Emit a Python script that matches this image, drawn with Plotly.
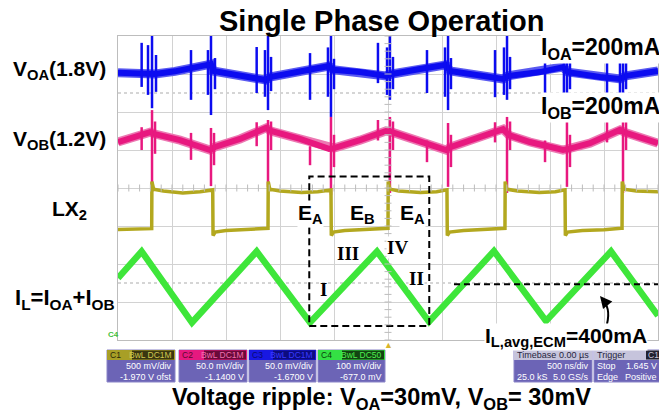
import plotly.graph_objects as go
import numpy as np

# ---------------- data (time in ns, amplitude in screen divisions) ----------------
# Inductor current I_L (green, C4)
il_t = [0, 219, 685, 1284, 1778, 2398, 2880, 3481, 3963, 4565, 5000]
il_v = [-2.37, -1.67, -3.54, -1.67, -3.54, -1.67, -3.52, -1.66, -3.50, -1.67, -3.36]

# LX2 switching node (yellow, C1)
lx_t = [0, 150, 305, 312, 314, 330, 420, 600, 760, 870,
        877, 880, 900, 1000, 1200, 1380,
        1389, 1391, 1405, 1500, 1700, 1850, 1965,
        1972, 1975, 1995, 2100, 2300, 2492,
        2500, 2502, 2517, 2600, 2800, 2950, 3039,
        3046, 3049, 3070, 3200, 3400, 3575,
        3583, 3585, 3600, 3700, 3900, 4050, 4132,
        4139, 4142, 4162, 4300, 4500, 4659,
        4667, 4669, 4684, 4800, 5000]
lx_v = [-1.09, -1.08, -1.07, -1.07, 0.17, -0.03, -0.08, -0.13, -0.10, -0.05,
        -0.05, -1.25, -1.16, -1.12, -1.10, -1.06,
        -1.06, 0.17, -0.03, -0.08, -0.12, -0.10, -0.05,
        -0.05, -1.25, -1.16, -1.12, -1.10, -1.06,
        -1.06, 0.17, -0.03, -0.08, -0.12, -0.10, -0.05,
        -0.05, -1.25, -1.16, -1.12, -1.10, -1.06,
        -1.06, 0.17, -0.03, -0.08, -0.12, -0.10, -0.05,
        -0.05, -1.25, -1.16, -1.12, -1.10, -1.06,
        -1.06, 0.17, -0.03, -0.08, -0.10]

# V_OA output (blue, C3) baseline
voa_t = [0, 296, 343, 528, 759, 861, 880, 1130, 1370, 1407, 1778, 1954, 1991, 2241, 2481,
         2537, 2796, 3037, 3074, 3352, 3565, 3611, 3907, 4120, 4167, 4463, 4648, 4704, 5000]
voa_v = [3.03, 2.97, 3.00, 3.07, 3.18, 3.26, 3.08, 2.97, 2.84, 2.92, 3.11, 3.21, 3.11, 3.05, 2.95,
         3.00, 3.13, 3.24, 3.08, 2.95, 2.87, 2.95, 3.05, 3.18, 3.05, 2.92, 2.87, 2.95, 3.08]
# V_OA spikes: time, upper end, lower end
voa_spk_t = [219, 278, 315, 352, 676, 833, 861, 898, 1284, 1361, 1389, 1417, 1778, 1944, 1972, 2000,
             2407, 2491, 2518, 2546, 2861, 3028, 3056, 3083, 3491, 3574, 3602, 3630, 3954,
             4129, 4157, 4185, 4528, 4648, 4676, 4704]
voa_spk_hi = [3.82, 3.76, 4.00, 3.50, 3.63, 3.63, 4.00, 3.42, 3.71, 3.63, 4.00, 3.45, 3.55, 3.70, 4.00, 3.40,
              3.82, 3.70, 4.00, 3.45, 3.63, 3.70, 4.00, 3.42, 3.63, 3.70, 4.00, 3.45, 3.63,
              3.70, 4.00, 3.42, 3.76, 3.70, 4.00, 3.45]
voa_spk_lo = [2.66, 2.45, 2.10, 2.53, 2.32, 2.45, 1.92, 2.60, 2.50, 2.40, 2.05, 2.55, 2.32, 2.40, 1.87, 2.60,
              2.76, 2.45, 2.32, 2.60, 2.50, 2.40, 2.05, 2.60, 2.39, 2.45, 2.32, 2.60, 2.39,
              2.45, 2.40, 2.60, 2.45, 2.45, 2.32, 2.60]

# V_OB output (pink, C2) baseline
vob_t = [0, 296, 343, 574, 852, 898, 1130, 1370, 1417, 1685, 1954, 2000, 2241, 2481, 2537, 2796,
         3037, 3083, 3352, 3565, 3620, 3815, 4120, 4176, 4370, 4648, 4704, 5000]
vob_v = [1.21, 1.47, 1.42, 1.26, 1.00, 1.08, 1.29, 1.58, 1.50, 1.29, 1.03, 1.05, 1.26, 1.50, 1.47, 1.24,
         1.00, 1.08, 1.34, 1.55, 1.39, 1.21, 1.00, 1.03, 1.18, 1.53, 1.45, 1.18]
vob_spk_t = [219, 315, 343, 676, 861, 889, 1284, 1389, 1417, 1778, 1972, 2000, 2407, 2518, 2546, 2861,
             3056, 3083, 3491, 3602, 3630, 3954, 4157, 4185, 4528, 4676, 4704]
vob_spk_hi = [1.60, 2.05, 1.75, 1.45, 1.58, 1.45, 1.73, 1.79, 1.75, 1.10, 1.87, 1.40, 1.79, 1.87, 1.75, 1.25,
              1.71, 1.40, 1.73, 1.87, 1.75, 1.25, 1.79, 1.40, 1.79, 1.87, 1.75]
vob_spk_lo = [1.00, -0.10, 0.90, 0.74, 0.05, 0.60, 1.10, 0.03, 1.00, 0.60, -0.18, 0.55, 1.25, -0.13, 1.00, 0.68,
              0.03, 0.55, 1.20, -0.13, 1.00, 0.68, 0.03, 0.55, 1.20, -0.13, 1.00]

# annotation overlays in data units
il_avg = -2.53
avg_start = 3111
box_t = [1771, 2882]
box_v = [-3.63, 0.30]

# ---------------- figure ----------------
W, H = 659, 413
ML, MR, MT, MB = 118, 1, 36, 73
PW, PH = W - ML - MR, H - MT - MB


def px(x):
    return (x - ML) / PW


def py(y):
    return (H - MB - y) / PH


def spikes(t, hi, lo):
    xs, ys = [], []
    for a, b, c in zip(t, hi, lo):
        xs += [a, a, None]
        ys += [b, c, None]
    return xs, ys


fig = go.Figure()

BLUE = '#0c0cf0'
PINK = '#e8187f'
YEL = '#b3a81f'
GRN = '#3ee63a'

# V_OA
fig.add_trace(go.Scatter(x=voa_t, y=voa_v, mode='lines', line=dict(color='#5a5af0', width=9), hoverinfo='skip'))
fig.add_trace(go.Scatter(x=voa_t, y=voa_v, mode='lines', line=dict(color=BLUE, width=6), hoverinfo='skip'))
sx, sy = spikes(voa_spk_t, voa_spk_hi, voa_spk_lo)
fig.add_trace(go.Scatter(x=sx, y=sy, mode='lines', line=dict(color=BLUE, width=2.5), hoverinfo='skip'))

# V_OB
fig.add_trace(go.Scatter(x=vob_t, y=vob_v, mode='lines', line=dict(color='#ec78b2', width=9), hoverinfo='skip'))
fig.add_trace(go.Scatter(x=vob_t, y=vob_v, mode='lines', line=dict(color=PINK, width=6), hoverinfo='skip'))
sx, sy = spikes(vob_spk_t, vob_spk_hi, vob_spk_lo)
fig.add_trace(go.Scatter(x=sx, y=sy, mode='lines', line=dict(color=PINK, width=2.5), hoverinfo='skip'))

# LX2
fig.add_trace(go.Scatter(x=lx_t, y=lx_v, mode='lines', line=dict(color=YEL, width=3.5), hoverinfo='skip'))

# I_L
fig.add_trace(go.Scatter(x=il_t, y=il_v, mode='lines', line=dict(color=GRN, width=6.5), hoverinfo='skip'))

# average line and dashed box
fig.add_trace(go.Scatter(x=[avg_start, 5000], y=[il_avg, il_avg], mode='lines',
                         line=dict(color='black', width=2, dash='6px,4px'), hoverinfo='skip'))
fig.add_trace(go.Scatter(x=[box_t[0], box_t[1], box_t[1], box_t[0], box_t[0]],
                         y=[box_v[0], box_v[0], box_v[1], box_v[1], box_v[0]], mode='lines',
                         line=dict(color='black', width=2, dash='7px,4px'), hoverinfo='skip'))

# minor ticks on centre lines (graticule decoration)
mt_x = np.arange(0, 5001, 100)
mt_y = np.arange(-4, 4.01, 0.2)
fig.add_trace(go.Scatter(x=mt_x, y=[0] * len(mt_x), mode='markers',
                         marker=dict(symbol='line-ns', size=5, line=dict(color='#bcbcbc', width=1)),
                         hoverinfo='skip'))
fig.add_trace(go.Scatter(x=[2500] * len(mt_y), y=mt_y, mode='markers',
                         marker=dict(symbol='line-ew', size=5, line=dict(color='#bcbcbc', width=1)),
                         hoverinfo='skip'))

shapes = []
for yv in (2.5, -2.5):
    shapes.append(dict(type='line', xref='x', yref='y', x0=0, x1=5000, y0=yv, y1=yv,
                       line=dict(color='#c8c8c8', width=1.5, dash='dot'), layer='below'))

annotations = []
SANS = 'Liberation Sans, Arial, sans-serif'
SERIF = 'Liberation Serif, Times New Roman, serif'


def ann(text, x, y, size, xanchor='center', yanchor='middle', color='black', family=SANS, bg=None, pad=0):
    d = dict(text=text, x=px(x), y=py(y), xref='paper', yref='paper', showarrow=False,
             xanchor=xanchor, yanchor=yanchor, font=dict(size=size, color=color, family=family),
             borderpad=pad)
    if bg:
        d['bgcolor'] = bg
    annotations.append(d)


ann('<b>Single Phase Operation</b>', 382, 21, 29)
ann('<b>V<sub>OA</sub>(1.8V)</b>', 107, 70, 21, xanchor='right')
ann('<b>V<sub>OB</sub>(1.2V)</b>', 107, 140, 21, xanchor='right')
ann('<b>LX<sub>2</sub></b>', 88, 210, 21, xanchor='right')
ann('<b>I<sub>L</sub>=I<sub>OA</sub>+I<sub>OB</sub></b>', 116, 299, 22, xanchor='right')
ann('<b>I<sub>OA</sub>=200mA</b>', 600, 48, 23, bg='white')
ann('<b>I<sub>OB</sub>=200mA</b>', 600, 107, 23, bg='white')
ann('<b>E<sub>A</sub></b>', 310, 214, 21, bg='white')
ann('<b>E<sub>B</sub></b>', 362, 214, 21)
ann('<b>E<sub>A</sub></b>', 412, 214, 21, bg='white')
ann('<b>III</b>', 348, 253, 19, family=SERIF)
ann('<b>IV</b>', 397, 247, 19, family=SERIF, bg='white')
ann('<b>I</b>', 323, 289, 19, family=SERIF)
ann('<b>II</b>', 416, 278, 19, family=SERIF, bg='white')
ann('<b>I<sub>L,avg,ECM</sub>=400mA</b>', 566, 337, 21, bg='white')
ann('<b>Voltage ripple: V<sub>OA</sub>=30mV, V<sub>OB</sub>= 30mV</b>', 381, 398, 23.5)

# curved arrow to the average line
shapes.append(dict(type='path', xref='paper', yref='paper',
                   path=f'M {px(607)} {py(324)} Q {px(611)} {py(307)} {px(602)} {py(300)}',
                   line=dict(color='black', width=2)))
annotations.append(dict(x=px(600), y=py(296), xref='paper', yref='paper', ax=5, ay=6,
                        showarrow=True, arrowhead=2, arrowsize=1.2, arrowwidth=2, arrowcolor='black', text=' '))

# trigger marker
ann('▲', 388, 345, 9, color='#d9b52a')
ann('<b>C4</b>', 113, 334, 8, color='#40c040')

# oscilloscope info boxes
BODY = '#6c64b6'
FH = 8.5   # header text size
FB = 9     # body text size
chan = [
    dict(x0=107, x1=175, head='#a89f26', lab='C1', labc='#2b2a08', badge=('BwL', 'DC1M'), bbg='#3a3610', bfg='#d0c850',
         lines=('500 mV/div', '-1.970 V ofst')),
    dict(x0=179, x1=247, head='#e6197f', lab='C2', labc='#5a0a30', badge=('BwL', 'DC1M'), bbg='#6a0a3a', bfg='#f070b0',
         lines=('50.0 mV/div', '-1.1400 V')),
    dict(x0=249, x1=316, head='#1818e2', lab='C3', labc='#0a0a70', badge=('BwL', 'DC1M'), bbg='#0c0c80', bfg='#3a3aff',
         lines=('50.0 mV/div', '-1.6700 V')),
    dict(x0=318, x1=385, head='#34e044', lab='C4', labc='#0a400a', badge=('BwL', 'DC50'), bbg='#124412', bfg='#50f050',
         lines=('100 mV/div', '-677.0 mV')),
]
for c in chan:
    shapes.append(dict(type='rect', xref='paper', yref='paper', x0=px(c['x0']), x1=px(c['x1']), y0=py(382), y1=py(350),
                       fillcolor=BODY, line=dict(color='#8a84c8', width=1)))
    shapes.append(dict(type='rect', xref='paper', yref='paper', x0=px(c['x0']), x1=px(c['x1']), y0=py(360), y1=py(350),
                       fillcolor=c['head'], line=dict(width=0)))
    shapes.append(dict(type='rect', xref='paper', yref='paper', x0=px(c['x1'] - 43), x1=px(c['x1'] - 1), y0=py(359.5),
                       y1=py(350.5), fillcolor=c['bbg'], line=dict(width=0)))
    ann(c['lab'], c['x0'] + 2, 355.5, FH, xanchor='left', color=c['labc'])
    ann(c['badge'][0] + ' ' + c['badge'][1], c['x1'] - 2, 355.5, FH, xanchor='right', color=c['bfg'])
    ann(c['lines'][0], c['x1'] - 2, 366, FB, xanchor='right', color='white')
    ann(c['lines'][1], c['x1'] - 2, 376.5, FB, xanchor='right', color='white')

for x0, x1 in ((514, 592), (594, 662)):
    shapes.append(dict(type='rect', xref='paper', yref='paper', x0=px(x0), x1=px(x1), y0=py(382), y1=py(350),
                       fillcolor=BODY, line=dict(color='#8a84c8', width=1)))
    shapes.append(dict(type='rect', xref='paper', yref='paper', x0=px(x0), x1=px(x1), y0=py(360), y1=py(350),
                       fillcolor='#c6c4dc', line=dict(width=0)))
ann('Timebase', 516, 355.5, FB, xanchor='left', color='#262640')
ann('0.00 µs', 590, 355.5, FB, xanchor='right', color='#262640')
ann('500 ns/div', 590, 366, FB, xanchor='right', color='white')
ann('25.0 kS', 516, 376.5, FB, xanchor='left', color='white')
ann('5.0 GS/s', 590, 376.5, FB, xanchor='right', color='white')
ann('Trigger', 596, 355.5, FB, xanchor='left', color='#262640')
shapes.append(dict(type='rect', xref='paper', yref='paper', x0=px(646), x1=px(659), y0=py(359.5), y1=py(350.5),
                   fillcolor='#222230', line=dict(width=0)))
ann('C1', 647, 355.5, FH, xanchor='left', color='#c6c4dc')
ann('Stop', 596, 366, FB, xanchor='left', color='white')
ann('1.645 V', 658, 366, FB, xanchor='right', color='white')
ann('Edge', 596, 376.5, FB, xanchor='left', color='white')
ann('Positive', 658, 376.5, FB, xanchor='right', color='white')

axis_common = dict(showgrid=True, gridcolor='#d2d2d2', gridwidth=1, zeroline=False, showticklabels=False,
                   ticks='', showline=True, linecolor='#bdbdbd', linewidth=1, mirror=True, fixedrange=True)
fig.update_layout(
    width=W, height=H, margin=dict(l=ML, r=MR, t=MT, b=MB, pad=0),
    paper_bgcolor='white', plot_bgcolor='white', showlegend=False,
    xaxis=dict(range=[0, 5000], dtick=500, tick0=0, **axis_common),
    yaxis=dict(range=[-4, 4], dtick=1, tick0=-4, **axis_common),
    shapes=shapes, annotations=annotations,
)
fig.write_html('out.html', config={'displayModeBar': False},
               post_script="document.body.style.margin='0px';document.body.style.overflow='hidden';")
